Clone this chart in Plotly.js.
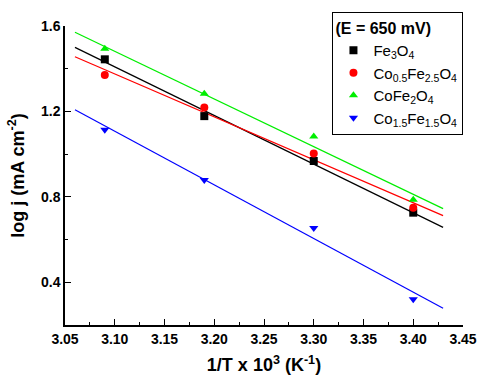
<!DOCTYPE html>
<html>
<head>
<meta charset="utf-8">
<script src="https://cdn.plot.ly/plotly-3.0.1.min.js"></script>
<style>
  body { margin: 0; background: #fff; }
  #chart { width: 480px; height: 381px; }
</style>
</head>
<body>
<div id="chart"></div>
<script>
// 1/T x 10^3 values where j was measured
const invT = [3.09, 3.19, 3.30, 3.40]

// log j
const fe3o4 = [1.444, 1.178, 0.968, 0.726]
const co05 = [1.370, 1.218, 1.003, 0.749]
const cofe2o4 = [1.494, 1.283, 1.083, 0.787]
const co15 = [1.114, 0.879, 0.654, 0.321]

// ends of the fitted lines
const fitX = [3.06, 3.43]
const fitFe3o4 = [1.500, 0.657]
const fitCo05 = [1.456, 0.712]
const fitCofe2o4 = [1.571, 0.745]
const fitCo15 = [1.208, 0.278]

const names = [
  'Fe<sub>3</sub>O<sub>4</sub>',
  'Co<sub>0.5</sub>Fe<sub>2.5</sub>O<sub>4</sub>',
  'CoFe<sub>2</sub>O<sub>4</sub>',
  'Co<sub>1.5</sub>Fe<sub>1.5</sub>O<sub>4</sub>'
]

const colors = ['#000000', '#ff0000', '#00ee00', '#0000ff']
const symbols = ['square', 'circle', 'triangle-up', 'triangle-down']
const points = [fe3o4, co05, cofe2o4, co15]
const fits = [fitFe3o4, fitCo05, fitCofe2o4, fitCo15]

let traces = []

fits.forEach((f, i) => {
  traces.push({
    x: fitX,
    y: f,
    type: 'scatter',
    mode: 'lines',
    showlegend: false,
    hoverinfo: 'skip',
    line: { color: colors[i], width: 1.2 }
  })
})

points.forEach((p, i) => {
  traces.push({
    x: invT,
    y: p,
    type: 'scatter',
    mode: 'markers',
    name: names[i],
    marker: { color: colors[i], symbol: symbols[i], size: 8 }
  })
})

const font = { family: 'Liberation Sans, Arial, sans-serif', color: '#000' }
const tickFont = { size: 14, family: 'Liberation Sans, Arial, sans-serif', weight: 'bold' }

Plotly.newPlot('chart', traces, {
  width: 480,
  height: 381,
  margin: { l: 65, r: 17, t: 21, b: 56 },
  paper_bgcolor: '#fff',
  plot_bgcolor: '#fff',
  font: font,
  xaxis: {
    range: [3.05, 3.45],
    dtick: 0.05,
    tick0: 3.05,
    tickformat: '.2f',
    ticks: 'inside',
    ticklen: 6,
    tickwidth: 1.2,
    tickcolor: '#000',
    minor: { dtick: 0.025, ticks: 'inside', ticklen: 3, tickcolor: '#000' },
    showline: true,
    linecolor: '#000',
    linewidth: 1.5,
    showgrid: false,
    zeroline: false,
    tickfont: tickFont,
    title: {
      text: '<b>1/T x 10<sup>3</sup> (K<sup>-1</sup>)</b>',
      font: { size: 18 },
      standoff: 13
    }
  },
  yaxis: {
    range: [0.2, 1.6],
    dtick: 0.4,
    tick0: 0,
    tickformat: '.1f',
    ticks: 'inside',
    ticklen: 6,
    tickwidth: 1.2,
    tickcolor: '#000',
    minor: { dtick: 0.2, ticks: 'inside', ticklen: 3, tickcolor: '#000' },
    showline: true,
    linecolor: '#000',
    linewidth: 1.5,
    showgrid: false,
    zeroline: false,
    tickfont: tickFont,
    title: {
      text: '<b>log j (mA cm<sup>-2</sup>)</b>',
      font: { size: 18 },
      standoff: 12
    }
  },
  legend: {
    x: 0.672,
    y: 1.046,
    xanchor: 'left',
    yanchor: 'top',
    bgcolor: '#fff',
    bordercolor: '#000',
    borderwidth: 1,
    font: { size: 15 },
    itemwidth: 30,
    tracegroupgap: 0,
    title: { text: '<b>(E = 650 mV)</b>', font: { size: 16 }, side: 'top' }
  },
  showlegend: true
}, {
  displayModeBar: false
})
</script>
</body>
</html>
